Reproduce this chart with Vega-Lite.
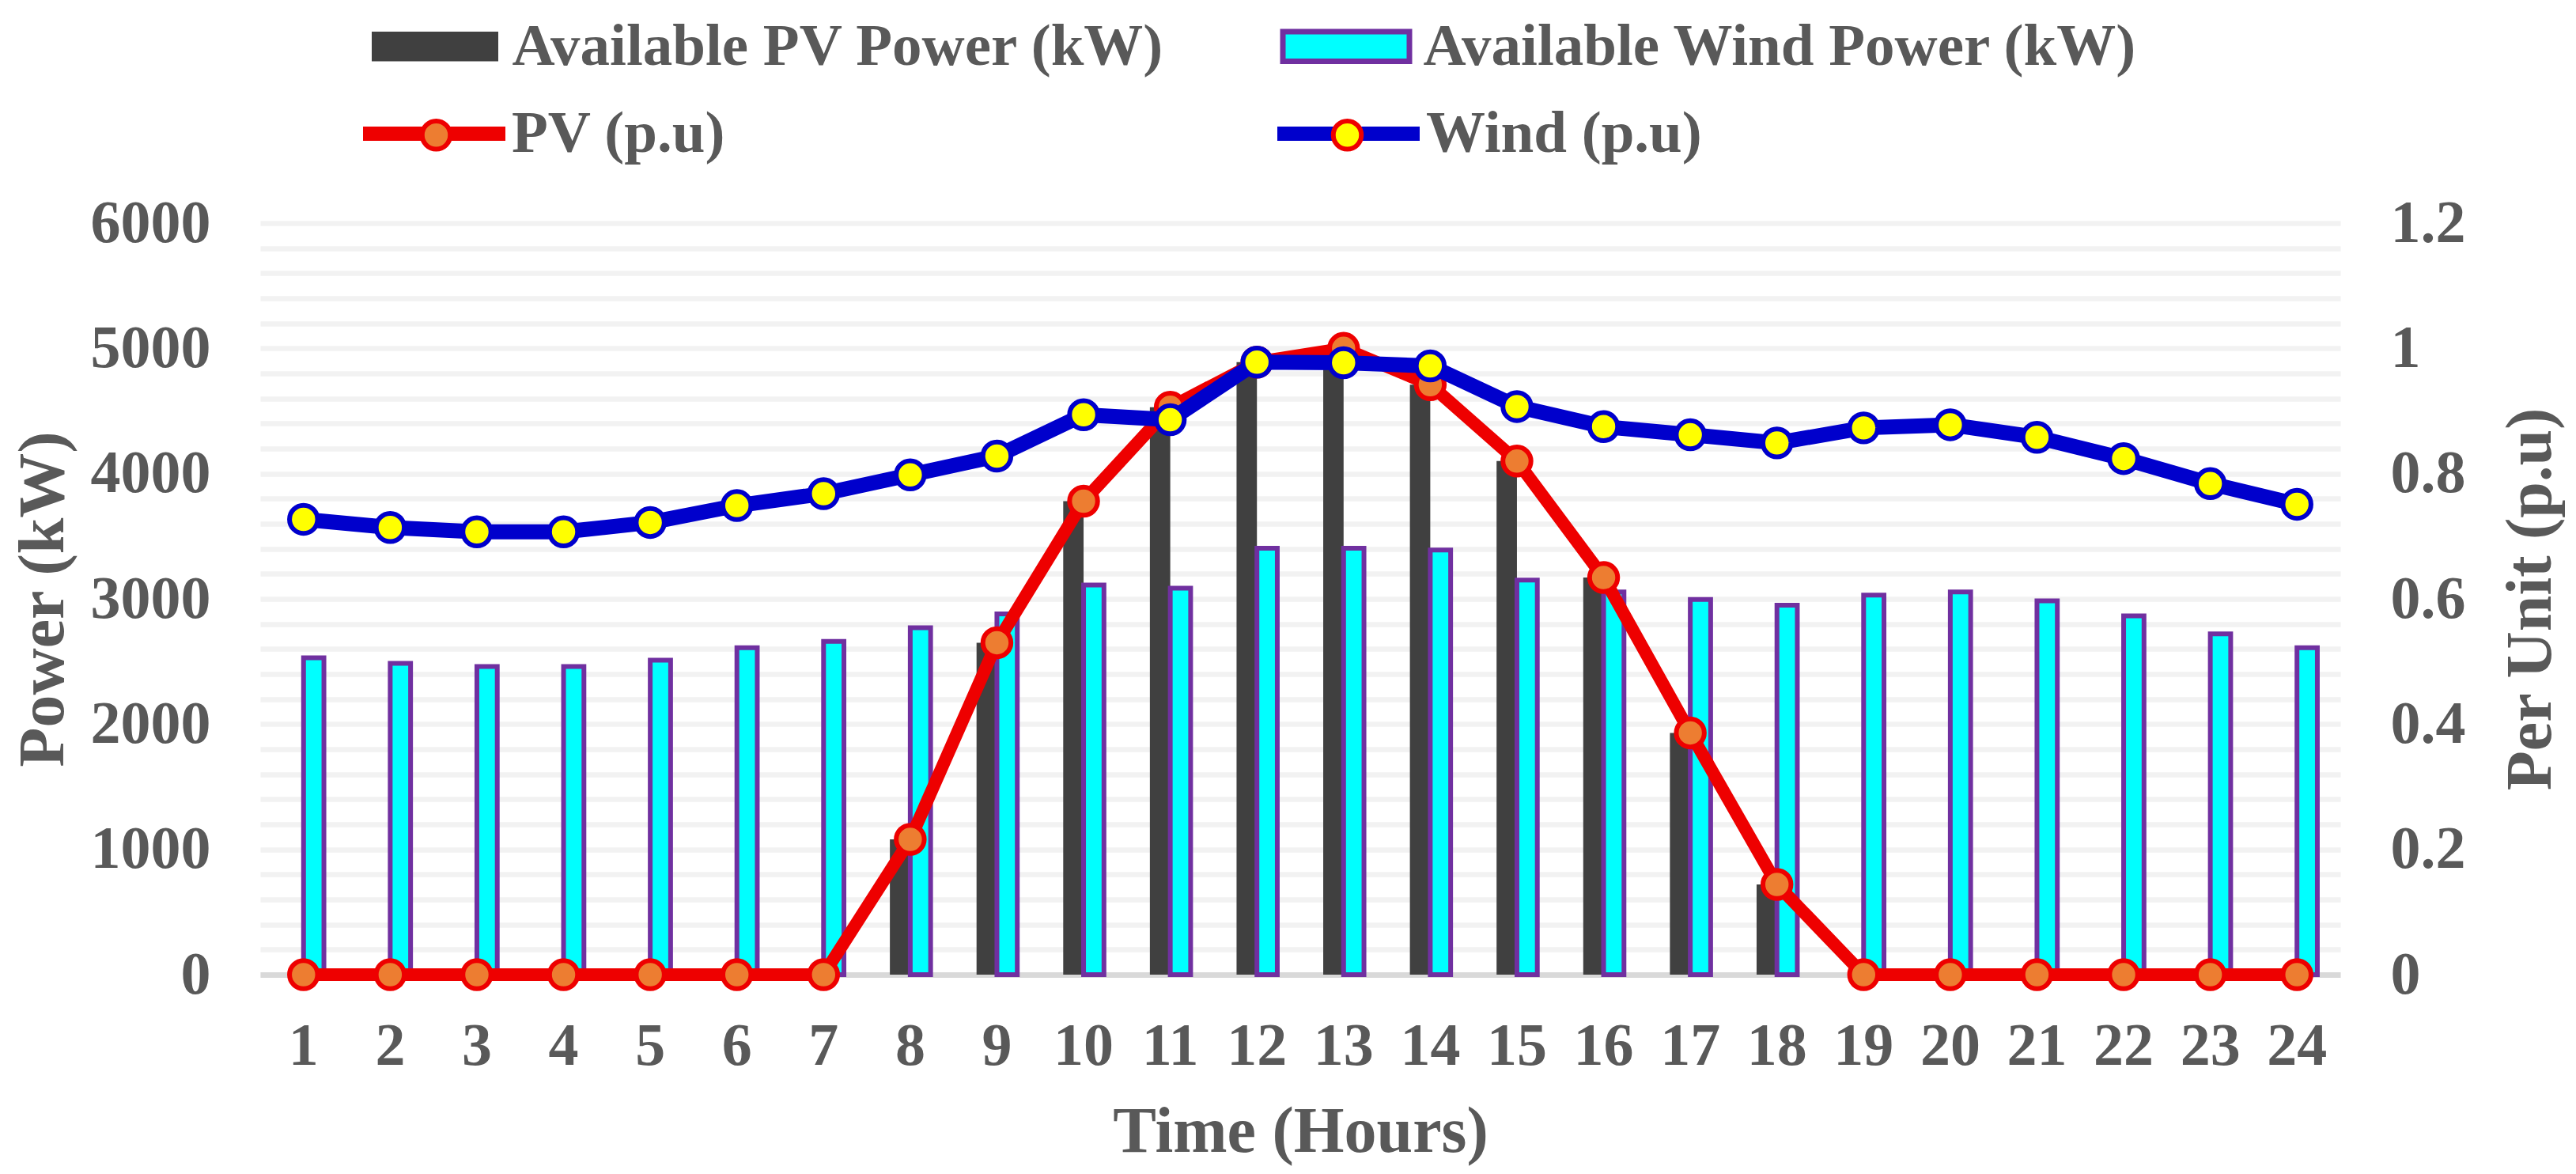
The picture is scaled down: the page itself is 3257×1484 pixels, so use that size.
{
  "$schema": "https://vega.github.io/schema/vega-lite/v6.json",
  "width": 2630,
  "height": 950,
  "autosize": {"type": "none"},
  "padding": {"left": 329, "top": 282, "right": 298, "bottom": 252},
  "background": "white",
  "config": {
    "view": {"stroke": null},
    "font": "Liberation Serif",
    "axis": {
      "labelFont": "Liberation Serif",
      "labelFontWeight": "bold",
      "labelFontSize": 76,
      "labelColor": "#595959",
      "titleFont": "Liberation Serif",
      "titleFontWeight": "bold",
      "titleFontSize": 82,
      "titleColor": "#595959",
      "ticks": false,
      "tickSize": 0,
      "labelOverlap": false
    },
    "legend": {
      "labelFont": "Liberation Serif",
      "labelFontWeight": "bold",
      "labelFontSize": 75,
      "labelColor": "#595959",
      "labelLimit": 2000,
      "padding": 0,
      "offset": 0,
      "title": null
    }
  },
  "data": {
    "values": [
      {"hour": 1, "pv_kw": 0, "wind_kw": 2530, "pv_pu": 0, "wind_pu": 0.727},
      {"hour": 2, "pv_kw": 0, "wind_kw": 2485, "pv_pu": 0, "wind_pu": 0.714},
      {"hour": 3, "pv_kw": 0, "wind_kw": 2460, "pv_pu": 0, "wind_pu": 0.707},
      {"hour": 4, "pv_kw": 0, "wind_kw": 2460, "pv_pu": 0, "wind_pu": 0.707},
      {"hour": 5, "pv_kw": 0, "wind_kw": 2510, "pv_pu": 0, "wind_pu": 0.722},
      {"hour": 6, "pv_kw": 0, "wind_kw": 2610, "pv_pu": 0, "wind_pu": 0.749},
      {"hour": 7, "pv_kw": 0, "wind_kw": 2660, "pv_pu": 0, "wind_pu": 0.768},
      {"hour": 8, "pv_kw": 1080, "wind_kw": 2770, "pv_pu": 0.216, "wind_pu": 0.798},
      {"hour": 9, "pv_kw": 2650, "wind_kw": 2880, "pv_pu": 0.53, "wind_pu": 0.828},
      {"hour": 10, "pv_kw": 3780, "wind_kw": 3110, "pv_pu": 0.756, "wind_pu": 0.894},
      {"hour": 11, "pv_kw": 4530, "wind_kw": 3085, "pv_pu": 0.906, "wind_pu": 0.886},
      {"hour": 12, "pv_kw": 4890, "wind_kw": 3405, "pv_pu": 0.978, "wind_pu": 0.978},
      {"hour": 13, "pv_kw": 5000, "wind_kw": 3405, "pv_pu": 1.0, "wind_pu": 0.977},
      {"hour": 14, "pv_kw": 4710, "wind_kw": 3390, "pv_pu": 0.942, "wind_pu": 0.972},
      {"hour": 15, "pv_kw": 4100, "wind_kw": 3150, "pv_pu": 0.82, "wind_pu": 0.907},
      {"hour": 16, "pv_kw": 3170, "wind_kw": 3055, "pv_pu": 0.634, "wind_pu": 0.875},
      {"hour": 17, "pv_kw": 1930, "wind_kw": 2995, "pv_pu": 0.386, "wind_pu": 0.862},
      {"hour": 18, "pv_kw": 720, "wind_kw": 2950, "pv_pu": 0.144, "wind_pu": 0.849},
      {"hour": 19, "pv_kw": 0, "wind_kw": 3030, "pv_pu": 0, "wind_pu": 0.873},
      {"hour": 20, "pv_kw": 0, "wind_kw": 3055, "pv_pu": 0, "wind_pu": 0.878},
      {"hour": 21, "pv_kw": 0, "wind_kw": 2985, "pv_pu": 0, "wind_pu": 0.858},
      {"hour": 22, "pv_kw": 0, "wind_kw": 2865, "pv_pu": 0, "wind_pu": 0.824},
      {"hour": 23, "pv_kw": 0, "wind_kw": 2720, "pv_pu": 0, "wind_pu": 0.784},
      {"hour": 24, "pv_kw": 0, "wind_kw": 2610, "pv_pu": 0, "wind_pu": 0.751}
    ]
  },
  "encoding": {
    "x": {
      "field": "hour",
      "type": "ordinal",
      "title": "Time (Hours)",
      "scale": {"paddingInner": 0.53, "paddingOuter": 0.265},
      "axis": {
        "labelAngle": 0,
        "labelPadding": 53,
        "domain": true,
        "domainColor": "#D9D9D9",
        "domainWidth": 7,
        "grid": false,
        "titleX": 1315,
        "titleY": 223,
        "titleAlign": "center",
        "titleBaseline": "alphabetic"
      }
    }
  },
  "layer": [
    {
      "encoding": {
        "y": {
          "type": "quantitative",
          "title": "Power (kW)",
          "scale": {"domain": [0, 6000]},
          "axis": {
            "orient": "left",
            "values": [0, 200, 400, 600, 800, 1000, 1200, 1400, 1600, 1800, 2000, 2200, 2400, 2600, 2800, 3000, 3200, 3400, 3600, 3800, 4000, 4200, 4400, 4600, 4800, 5000, 5200, 5400, 5600, 5800, 6000],
            "format": "d",
            "labelExpr": "datum.value % 1000 === 0 ? datum.label : ''",
            "labelOverlap": false,
            "labelBound": false,
            "grid": true,
            "gridColor": "#F2F2F2",
            "gridWidth": 6.5,
            "domain": false,
            "labelPadding": 63,
            "titleAngle": 270,
            "titleX": -275,
            "titleY": 475,
            "titleAlign": "center",
            "titleBaseline": "middle"
          }
        }
      },
      "layer": [
        {
          "mark": {"type": "bar"},
          "encoding": {
            "y": {"field": "pv_kw"},
            "xOffset": {"datum": "PV", "scale": {"domain": ["PV", "Wind"], "paddingInner": 0, "paddingOuter": 0}},
            "fill": {
              "datum": "Available PV Power (kW)",
              "scale": {
                "domain": ["Available PV Power (kW)", "Available Wind Power (kW)"],
                "range": ["#404040", "#00FFFF"]
              },
              "legend": {
                "orient": "none",
                "legendX": 142,
                "legendY": -261,
                "direction": "horizontal",
                "columns": 2,
                "columnPadding": 134,
                "symbolType": "M-1,-0.235H1V0.235H-1Z",
                "symbolSize": 25600,
                "symbolOpacity": 1,
                "symbolOffset": 41.5,
                "labelOffset": 60,
                "encode": {
                  "symbols": {
                    "update": {
                      "stroke": {"signal": "datum.value === 'Available Wind Power (kW)' ? '#7030A0' : '#404040'"},
                      "strokeWidth": {"signal": "datum.value === 'Available Wind Power (kW)' ? 7 : 0"}
                    }
                  }
                }
              }
            }
          }
        },
        {
          "mark": {"type": "bar", "stroke": "#7030A0", "strokeWidth": 6},
          "encoding": {
            "y": {"field": "wind_kw"},
            "xOffset": {"datum": "Wind"},
            "fill": {"datum": "Available Wind Power (kW)"}
          }
        }
      ]
    },
    {
      "encoding": {
        "y": {
          "type": "quantitative",
          "title": "Per Unit (p.u)",
          "scale": {"domain": [0, 1.2]},
          "axis": {
            "orient": "right",
            "values": [0, 0.2, 0.4, 0.6, 0.8, 1, 1.2],
            "format": "~f",
            "labelOverlap": false,
            "grid": false,
            "domain": false,
            "labelPadding": 63,
            "titleAngle": 270,
            "titleX": 240,
            "titleY": 475,
            "titleAlign": "center",
            "titleBaseline": "middle"
          }
        }
      },
      "layer": [
        {
          "mark": {"type": "line", "strokeWidth": 16, "strokeJoin": "round", "strokeCap": "round"},
          "encoding": {
            "y": {"field": "pv_pu"},
            "stroke": {
              "datum": "PV (p.u)",
              "scale": {"domain": ["PV (p.u)", "Wind (p.u)"], "range": ["#EE0000", "#0000CC"]},
              "legend": {
                "orient": "none",
                "legendX": 132,
                "legendY": -212,
                "direction": "horizontal",
                "columns": 2,
                "columnPadding": 661,
                "symbolType": "stroke",
                "symbolSize": 32400,
                "symbolStrokeWidth": 18,
                "symbolOffset": -11,
                "labelOffset": -1,
                "zindex": 1
              }
            }
          }
        },
        {
          "mark": {"type": "point", "shape": "circle", "filled": true, "opacity": 1, "size": 1257, "stroke": "#EE0000", "strokeWidth": 6},
          "encoding": {
            "y": {"field": "pv_pu"},
            "fill": {
              "datum": "PV (p.u)",
              "scale": {"domain": ["PV (p.u)", "Wind (p.u)"], "range": ["#ED7D31", "#FFFF00"]},
              "legend": {
                "orient": "none",
                "legendX": 199,
                "legendY": -149,
                "direction": "horizontal",
                "columns": 2,
                "columnPadding": 1074,
                "symbolType": "circle",
                "symbolSize": 1257,
                "symbolOpacity": 1,
                "symbolStrokeWidth": 6,
                "symbolOffset": -14,
                "labelOffset": 10,
                "labelExpr": "''",
                "zindex": 2,
                "encode": {
                  "symbols": {
                    "update": {
                      "stroke": {"signal": "datum.value === 'Wind (p.u)' ? '#0000CC' : '#EE0000'"}
                    }
                  }
                }
              }
            }
          }
        },
        {
          "mark": {"type": "line", "strokeWidth": 19, "strokeJoin": "round", "strokeCap": "round"},
          "encoding": {
            "y": {"field": "wind_pu"},
            "stroke": {"datum": "Wind (p.u)"}
          }
        },
        {
          "mark": {"type": "point", "shape": "circle", "filled": true, "opacity": 1, "size": 1257, "stroke": "#0000CC", "strokeWidth": 6},
          "encoding": {
            "y": {"field": "wind_pu"},
            "fill": {"datum": "Wind (p.u)"}
          }
        }
      ]
    }
  ],
  "resolve": {"scale": {"y": "independent", "fill": "independent"}}
}
